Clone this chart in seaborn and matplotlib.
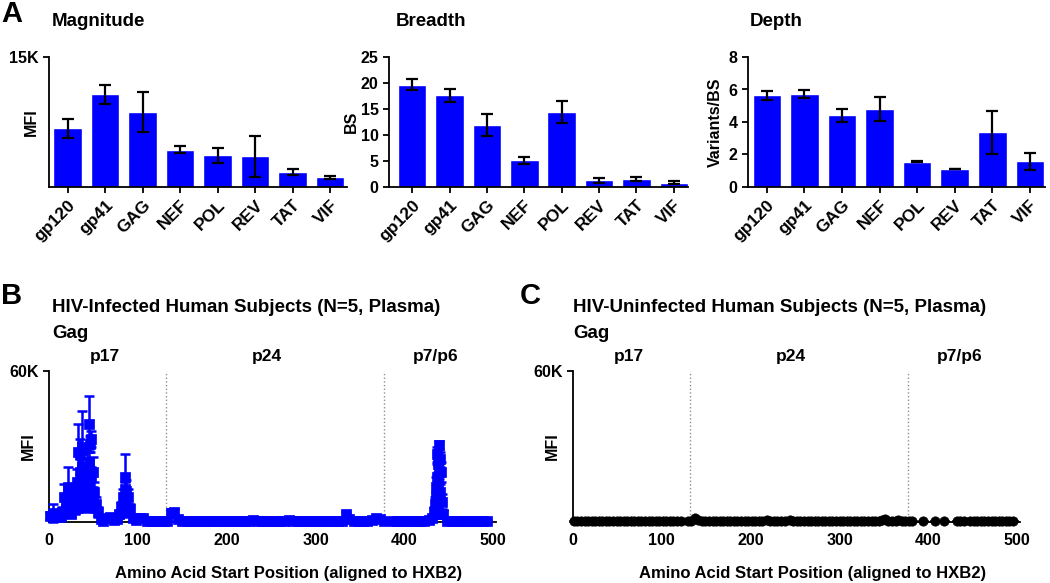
import matplotlib
matplotlib.use("Agg")
import matplotlib.pyplot as plt
import seaborn as sns
import pandas as pd

sns.set_theme(style="white")
plt.rcParams["font.family"] = ["Liberation Sans", "DejaVu Sans"]
plt.rcParams["font.weight"] = "bold"
plt.rcParams["axes.labelweight"] = "bold"
plt.rcParams["text.color"] = "black"
plt.rcParams["axes.labelcolor"] = "black"
plt.rcParams["xtick.color"] = "black"
plt.rcParams["ytick.color"] = "black"

W, H = 1050, 583
BLUE = "#0000FF"

# ---- panel A: per-protein summaries (mean, SEM) ----
genes = ["gp120", "gp41", "GAG", "NEF", "POL", "REV", "TAT", "VIF"]
magnitude = [6.8, 10.7, 8.7, 4.3, 3.65, 3.55, 1.7, 1.1]        # MFI, thousands
magnitude_err = [1.1, 1.1, 2.3, 0.42, 0.9, 2.35, 0.33, 0.2]
breadth = [19.7, 17.6, 11.9, 5.1, 14.4, 1.3, 1.5, 0.85]          # BS
breadth_err = [1.1, 1.3, 2.1, 0.6, 2.1, 0.5, 0.4, 0.35]
depth = [5.64, 5.74, 4.41, 4.8, 1.56, 1.09, 3.36, 1.58]          # Variants/BS
depth_err = [0.28, 0.25, 0.38, 0.72, 0.05, 0.0, 1.3, 0.52]

# ---- panel B: HIV-infected, Gag peptides (start position, MFI in thousands, SEM) ----
hiv_pos = [1, 4, 7, 10, 13, 15, 17, 19, 21, 23, 25, 27, 29, 31, 33, 35, 37, 39, 41, 43,
           45, 47, 49, 51, 53, 55, 58, 61, 65, 69, 73, 77, 79, 81, 83, 85, 87, 89, 91, 94,
           98, 102, 106, 110, 115, 120, 125, 129, 133, 137, 141, 145, 150, 155, 160, 165, 170, 175, 180, 185,
           190, 195, 200, 205, 210, 215, 220, 225, 230, 235, 240, 245, 250, 255, 260, 265, 270, 275, 280, 285,
           290, 295, 300, 305, 310, 315, 320, 325, 330, 334, 338, 343, 348, 353, 358, 363, 368, 373, 377, 388,
           392, 396, 401, 406, 410, 414, 418, 422, 428, 431, 433, 434, 435, 436, 437, 438, 439, 440, 441, 442,
           443, 448, 453, 458, 463, 468, 473, 478, 483, 488, 493]
hiv_mfi = [2.5, 3.5, 2.0, 2.5, 2.0, 4.0, 10.0, 8.0, 14.0, 9.0, 6.0, 11.0, 9.0, 16.0, 28.0, 27.0, 30.0, 18.0, 13.0, 22.0,
           39.0, 33.0, 20.0, 12.0, 7.0, 4.0, 1.0, 0.5, 1.5, 2.0, 0.8, 1.0, 3.0, 6.0, 10.0, 18.0, 12.5, 10.0, 5.0, 1.5,
           0.6, 1.5, 1.5, 0.4, 0.4, 0.3, 0.4, 0.3, 0.5, 3.5, 4.0, 1.0, 0.4, 0.5, 0.3, 0.4, 0.5, 0.4, 0.3, 0.5,
           0.4, 0.3, 0.5, 0.4, 0.4, 0.3, 0.5, 0.4, 0.6, 0.4, 0.3, 0.4, 0.5, 0.4, 0.3, 0.4, 0.6, 0.4, 0.3, 0.4,
           0.5, 0.4, 0.3, 0.4, 0.5, 0.4, 0.3, 0.4, 0.5, 3.0, 1.0, 0.4, 0.5, 0.4, 0.5, 0.6, 1.5, 1.0, 0.5, 0.4,
           0.5, 0.4, 0.5, 0.4, 0.5, 0.4, 0.4, 0.5, 0.8, 1.5, 4.0, 7.0, 10.0, 14.0, 18.0, 23.0, 30.5, 25.0, 20.0, 8.0,
           3.0, 0.4, 0.5, 0.4, 0.4, 0.5, 0.4, 0.4, 0.5, 0.4, 0.4]
hiv_sem = [1.5, 3.5, 1.0, 1.5, 1.0, 2.0, 5.0, 3.0, 8.0, 3.0, 2.0, 3.0, 3.0, 5.0, 11.0, 6.0, 14.0, 5.0, 4.0, 6.0,
           11.0, 3.0, 6.0, 4.0, 3.0, 2.0, 0.5, 0.3, 0.8, 0.5, 0.4, 0.5, 1.5, 2.0, 3.0, 9.0, 4.0, 3.0, 2.0, 0.8,
           0.3, 0.5, 0.5, 0.2, 0.2, 0.2, 0.2, 0.2, 0.3, 1.5, 1.0, 0.5, 0.2, 0.2, 0.2, 0.2, 0.2, 0.2, 0.2, 0.2,
           0.2, 0.2, 0.2, 0.2, 0.2, 0.2, 0.2, 0.2, 0.3, 0.2, 0.2, 0.2, 0.2, 0.2, 0.2, 0.2, 0.3, 0.2, 0.2, 0.2,
           0.2, 0.2, 0.2, 0.2, 0.2, 0.2, 0.2, 0.2, 0.2, 1.0, 0.5, 0.2, 0.2, 0.2, 0.2, 0.3, 0.8, 0.5, 0.2, 0.2,
           0.2, 0.2, 0.2, 0.2, 0.2, 0.2, 0.2, 0.2, 0.4, 1.0, 2.0, 3.0, 2.0, 4.0, 5.0, 4.0, 1.5, 3.0, 4.0, 3.0,
           1.5, 0.2, 0.2, 0.2, 0.2, 0.2, 0.2, 0.2, 0.2, 0.2, 0.2]
# additional sequence variants at the reactive start positions
var_pos = [19, 21, 23, 25, 29, 31, 33, 33, 35, 35, 37, 37, 39, 41, 43, 45, 45, 46, 47, 47,
           49, 51, 83, 85, 85, 87, 89, 434, 436, 437, 438, 438, 439, 440]
var_mfi = [5.0, 6.0, 4.0, 3.0, 5.0, 8.0, 12.0, 6.0, 15.0, 20.0, 10.0, 22.0, 8.0, 6.0, 12.0, 15.0, 24.0, 31.0, 18.0, 8.0,
           10.0, 6.0, 5.0, 8.0, 13.0, 6.0, 4.0, 3.0, 6.0, 27.0, 10.0, 16.0, 20.0, 12.0]
var_sem = [2.0, 2.0, 2.0, 1.0, 2.0, 3.0, 3.0, 2.0, 4.0, 5.0, 3.0, 5.0, 3.0, 2.0, 3.0, 5.0, 5.0, 3.0, 4.0, 3.0,
           3.0, 2.0, 2.0, 3.0, 3.0, 2.0, 2.0, 1.5, 2.0, 3.0, 3.0, 4.0, 3.0, 3.0]

# ---- panel C: HIV-uninfected, Gag peptides ----
neg_pos = [1, 5, 9, 13, 17, 21, 25, 29, 33, 37, 41, 45, 49, 53, 57, 61, 65, 69, 73, 77,
           81, 85, 89, 93, 97, 101, 105, 109, 113, 117, 121, 129, 133, 137, 141, 145, 149, 153, 157, 161,
           165, 169, 173, 177, 181, 185, 189, 193, 197, 201, 205, 209, 213, 218, 222, 226, 230, 234, 238, 244,
           248, 252, 256, 260, 264, 268, 272, 276, 280, 284, 288, 292, 296, 300, 304, 308, 312, 316, 320, 324,
           328, 332, 336, 340, 344, 348, 351, 355, 359, 363, 366, 370, 374, 378, 382, 394, 407, 417, 432, 436,
           440, 447, 451, 455, 459, 463, 467, 471, 475, 479, 483, 487, 491, 495]
neg_mfi = [0.3, 0.3, 0.2, 0.3, 0.3, 0.2, 0.3, 0.3, 0.2, 0.3, 0.3, 0.2, 0.3, 0.3, 0.2, 0.3, 0.3, 0.2, 0.3, 0.3,
           0.2, 0.3, 0.3, 0.2, 0.3, 0.3, 0.2, 0.3, 0.3, 0.2, 0.3, 0.3, 0.4, 1.5, 0.8, 0.3, 0.3, 0.2, 0.3, 0.3,
           0.2, 0.3, 0.3, 0.2, 0.3, 0.3, 0.2, 0.3, 0.3, 0.2, 0.3, 0.3, 0.3, 0.9, 0.3, 0.2, 0.3, 0.3, 0.2, 0.7,
           0.3, 0.2, 0.3, 0.3, 0.2, 0.3, 0.3, 0.2, 0.3, 0.3, 0.2, 0.3, 0.3, 0.2, 0.3, 0.3, 0.2, 0.3, 0.3, 0.2,
           0.3, 0.3, 0.2, 0.3, 0.3, 0.6, 1.0, 0.3, 0.3, 0.2, 0.8, 0.3, 0.3, 0.2, 0.3, 0.3, 0.3, 0.3, 0.3, 0.3,
           0.3, 0.3, 0.2, 0.3, 0.3, 0.2, 0.3, 0.3, 0.2, 0.3, 0.3, 0.2, 0.3, 0.3]
neg_sem = [0.1] * 33 + [0.4, 0.3] + [0.1] * 18 + [0.3] + [0.1] * 5 + [0.3] + [0.1] * 25 + [0.2, 0.3] + [0.1] * 3 + [0.3] + [0.1] * 23

# Gag domain boundaries and labels
domain_bounds = [132, 377]
domain_names = ["p17", "p24", "p7/p6"]
domain_label_x = [63, 245, 435]


def add_axes_px(fig, left, top, right, bottom):
    return fig.add_axes([left / W, 1 - bottom / H, (right - left) / W, (bottom - top) / H])


def style_axes(ax):
    for side in ["top", "right"]:
        ax.spines[side].set_visible(False)
    for side in ["left", "bottom"]:
        ax.spines[side].set_linewidth(1.3)
        ax.spines[side].set_color("black")
    ax.tick_params(axis="both", colors="black", labelsize=11.5, width=1.3, length=4,
                   direction="out", left=True, bottom=True)


def bar_panel(ax, values, errs, title_x, title, ylabel, ylim, yticks, yticklabels, xlim, label_x):
    df = pd.DataFrame({"gene": genes, "value": values})
    sns.barplot(data=df, x="gene", y="value", color=BLUE, saturation=1, width=0.76,
                errorbar=None, ax=ax)
    ax.errorbar(range(len(genes)), values, yerr=errs, fmt="none", ecolor="black",
                elinewidth=1.6, capsize=4, capthick=1.6, zorder=3)
    style_axes(ax)
    ax.set_xlim(*xlim)
    ax.set_ylim(*ylim)
    ax.set_yticks(yticks)
    ax.set_yticklabels(yticklabels)
    ax.set_xlabel("")
    ax.set_ylabel(ylabel, fontsize=11.5)
    ax.yaxis.set_label_coords(label_x, 0.5)
    for lab in ax.get_xticklabels():
        lab.set_rotation(45)
        lab.set_ha("right")
        lab.set_rotation_mode("anchor")
        lab.set_fontsize(12.5)
    fig.text(title_x / W, 1 - 21 / H, title, fontsize=13.5, fontweight="bold", va="center")


def peptide_panel(ax, pos, mfi, sem, color, marker, size, label_x, xlabel_x):
    ax.errorbar(pos, mfi, yerr=sem, fmt="none", ecolor=color, elinewidth=1.8,
                capsize=3.5, capthick=1.8, clip_on=False, zorder=3)
    sns.scatterplot(x=pos, y=mfi, marker=marker, s=size, color=color, edgecolor=color,
                    linewidth=0.5, clip_on=False, zorder=4, ax=ax, legend=False)
    style_axes(ax)
    ax.set_xlim(0, 503)
    ax.set_ylim(0, 60)
    ax.set_yticks([60])
    ax.set_yticklabels(["60K"])
    ax.set_xticks([0, 100, 200, 300, 400, 500])
    ax.tick_params(axis="x", length=0, pad=8)
    for b in domain_bounds:
        ax.axvline(b, color="#909090", linestyle=":", linewidth=1, zorder=1)
    for name, x in zip(domain_names, domain_label_x):
        ax.text(x, 1.093, name, transform=ax.get_xaxis_transform(), ha="center",
                va="center", fontsize=12.5, fontweight="bold")
    ax.set_ylabel("MFI", fontsize=11.5)
    ax.yaxis.set_label_coords(label_x, 0.5)
    ax.set_xlabel("Amino Acid Start Position (aligned to HXB2)", fontsize=12)
    ax.xaxis.set_label_coords(xlabel_x, -0.29)


fig = plt.figure(figsize=(W / 100, H / 100), dpi=100)

ax_mag = add_axes_px(fig, 49, 57, 347, 187)
bar_panel(ax_mag, magnitude, magnitude_err, 52, "Magnitude", "MFI", (0, 15), [15], ["15K"],
          (-0.5, 7.45), -0.035)

ax_br = add_axes_px(fig, 389, 57, 688, 187)
bar_panel(ax_br, breadth, breadth_err, 396, "Breadth", "BS", (0, 25), [0, 5, 10, 15, 20, 25],
          ["0", "5", "10", "15", "20", "25"], (-0.62, 7.38), -0.1)

ax_dp = add_axes_px(fig, 748, 57, 1045, 187)
bar_panel(ax_dp, depth, depth_err, 750, "Depth", "Variants/BS", (0, 8), [0, 2, 4, 6, 8],
          ["0", "2", "4", "6", "8"], (-0.5, 7.4), -0.085)

ax_b = add_axes_px(fig, 49, 371, 496, 522)
peptide_panel(ax_b, hiv_pos + var_pos, hiv_mfi + var_mfi, hiv_sem + var_sem, BLUE, "s", 50,
              -0.03, 0.537)

ax_c = add_axes_px(fig, 573, 371, 1020, 522)
peptide_panel(ax_c, neg_pos, neg_mfi, neg_sem, "black", "o", 45, -0.03, 0.537)

# panel letters and panel B/C titles
fig.text(1 / W, 1 - 14 / H, "A", fontsize=21, fontweight="bold", va="center")
fig.text(1 / W, 1 - 296 / H, "B", fontsize=21, fontweight="bold", va="center")
fig.text(520 / W, 1 - 296 / H, "C", fontsize=21, fontweight="bold", va="center")
fig.text(52 / W, 1 - 308 / H, "HIV-Infected Human Subjects (N=5, Plasma)", fontsize=13.5,
         fontweight="bold", va="center")
fig.text(52 / W, 1 - 334 / H, "Gag", fontsize=13.5, fontweight="bold", va="center")
fig.text(573 / W, 1 - 308 / H, "HIV-Uninfected Human Subjects (N=5, Plasma)", fontsize=13.5,
         fontweight="bold", va="center")
fig.text(573 / W, 1 - 334 / H, "Gag", fontsize=13.5, fontweight="bold", va="center")

fig.savefig("out.png", dpi=100)
